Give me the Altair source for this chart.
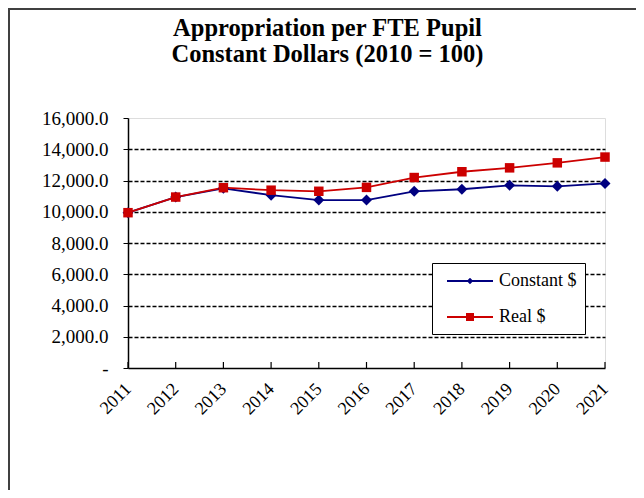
import altair as alt
import pandas as pd

years = [2011, 2012, 2013, 2014, 2015, 2016, 2017, 2018, 2019, 2020, 2021]
constant_dollars = [9940, 10940, 11500, 11060, 10750, 10750, 11310, 11440, 11690, 11630, 11810]
real_dollars = [9940, 10940, 11540, 11380, 11310, 11560, 12190, 12560, 12810, 13130, 13500]
series_names = ["Constant $", "Real $"]
series_colors = ["#000080", "#CC0000"]
y_ticks = [0, 2000, 4000, 6000, 8000, 10000, 12000, 14000, 16000]
title_lines = ["Appropriation per FTE Pupil", "Constant Dollars (2010 = 100)"]

df = pd.DataFrame({
    "year": years + years,
    "series": [series_names[0]] * len(years) + [series_names[1]] * len(years),
    "value": constant_dollars + real_dollars,
})

W, H = 477, 250
FONT = "Liberation Serif"

x_axis = alt.Axis(
    title=None, labelAngle=315, labelAlign="right", labelBaseline="middle",
    ticks=False, labelPadding=18, domainColor="black", domainWidth=1.5,
    labelFont=FONT, labelFontSize=18, labelColor="black", grid=False,
    labelOverlap=False,
)
y_axis = alt.Axis(
    title=None, values=y_ticks, tickCount=9,
    labelExpr="datum.value == 0 ? '-' : format(datum.value, ',.1f')",
    grid=True, gridColor="black", gridDash=[4, 2], gridWidth=1.4,
    gridOpacity={"condition": {"test": "datum.value >= 16000 || datum.value <= 0", "value": 0}, "value": 1},
    domainColor="black", domainWidth=1.5, tickColor="black", tickSize=5,
    labelPadding=15, labelFont=FONT, labelFontSize=19, labelColor="black",
    labelOverlap=False,
)
x_enc = alt.X("year:O", scale=alt.Scale(type="point", padding=0), axis=x_axis)
y_enc = alt.Y("value:Q", scale=alt.Scale(domain=[0, 16000], nice=False), axis=y_axis)

base = alt.Chart(df)

line_c = base.transform_filter(alt.datum.series == series_names[0]).mark_line(
    color=series_colors[0], strokeWidth=1.8).encode(x=x_enc, y=y_enc)
line_r = base.transform_filter(alt.datum.series == series_names[1]).mark_line(
    color=series_colors[1], strokeWidth=1.8).encode(x=x_enc, y=y_enc)
pt_c = base.transform_filter(alt.datum.series == series_names[0]).mark_point(
    shape="diamond", filled=True, size=120, color=series_colors[0], opacity=1).encode(x=x_enc, y=y_enc)
pt_r = base.transform_filter(alt.datum.series == series_names[1]).mark_point(
    shape="square", filled=True, size=90, color=series_colors[1], opacity=1).encode(x=x_enc, y=y_enc)

legend_paths = [
    "M-0.3,-0.1H4.3V0.1H-0.3Z M2,-0.32L2.32,0L2,0.32L1.68,0Z",
    "M-0.3,-0.1H4.3V0.1H-0.3Z M1.6,-0.4H2.4V0.4H1.6Z",
]
leg = alt.Legend(
    title=None, orient="none", legendX=304, legendY=145,
    fillColor="white", strokeColor="black", padding=8,
    labelFont=FONT, labelFontSize=18, labelColor="black", labelOffset=39,
    symbolSize=400, symbolStrokeWidth=0, symbolOpacity=1, rowPadding=17,
)
legend_layer = base.transform_filter("false").mark_point(filled=True, opacity=1, size=400).encode(
    x=x_enc, y=y_enc,
    color=alt.Color("series:N", scale=alt.Scale(domain=series_names, range=series_colors), legend=leg),
    shape=alt.Shape("series:N", scale=alt.Scale(domain=series_names, range=legend_paths), legend=leg),
)

xticks = alt.Chart(pd.DataFrame({"year": years})).mark_rule(color="black", strokeWidth=1.2).encode(
    x=x_enc, y=alt.value(H - 6), y2=alt.value(H))

frame_data = alt.Chart(pd.DataFrame({"k": [0]}))
border_top = frame_data.mark_rule(color="#404040", strokeWidth=2).encode(
    x=alt.value(-119), x2=alt.value(520), y=alt.value(-109))
border_left = frame_data.mark_rule(color="#404040", strokeWidth=2).encode(
    x=alt.value(-119), y=alt.value(-110), y2=alt.value(380))

chart = alt.layer(
    line_c, line_r, pt_c, pt_r, legend_layer, xticks, border_top, border_left
).properties(
    width=W, height=H,
    padding={"left": 120, "top": 110, "right": 31, "bottom": 122},
    autosize=alt.AutoSizeParams(type="none"),
    title=alt.TitleParams(
        title_lines, font=FONT, fontSize=24.5, fontWeight="bold", color="black",
        anchor="middle", frame="group", dx=-39, offset=-60, lineHeight=26,
    ),
).configure_view(
    fill="#FFFFCC", stroke="#808080", strokeWidth=1
).configure(background="white")

chart.save("out.html", embed_options={"renderer": "svg", "actions": False})
